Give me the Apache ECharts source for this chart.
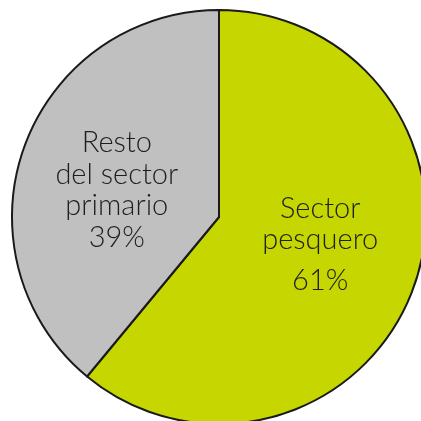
<!DOCTYPE html>
<html><head><meta charset="utf-8">
<script src="https://cdn.jsdelivr.net/npm/echarts@6/dist/echarts.min.js"></script>
<style>html,body{margin:0;padding:0;background:#fff}#c{width:421px;height:421px}</style>
</head><body><div id="c"></div>
<script>
const categories = ['Sector\npesquero', 'Resto\ndel sector\nprimario'];
const values = [61, 39];
const colors = ['#C5D600', '#C0C0C0'];

const chart = echarts.init(document.getElementById('c'), null, {renderer: 'canvas'});
const font = {fontSize: 29, color: '#1e1e1e', fontFamily: 'Lato', fontWeight: 300};
chart.setOption({
  animation: false,
  series: [{
    type: 'pie',
    center: [219, 217],
    radius: [0, 207],
    startAngle: 90,
    clockwise: true,
    data: categories.map((n, i) => ({
      name: n, value: values[i],
      itemStyle: {color: colors[i]},
      label: i === 0 ? {
        formatter: p => '{n|' + p.name + '}\n{p|' + p.value + '%}',
        offset: [1, -9],
        rich: {n: Object.assign({lineHeight: 31.5}, font),
               p: Object.assign({lineHeight: 40, verticalAlign: 'bottom'}, font)}
      } : {
        formatter: p => '{n|' + p.name + '\n' + p.value + '%}',
        offset: [-2, 9],
        rich: {n: Object.assign({lineHeight: 31.5}, font)}
      }
    })),
    label: {show: true, position: 'inside', align: 'center'},
    labelLine: {show: false},
    itemStyle: {borderColor: '#1a1a1a', borderWidth: 2},
    emphasis: {disabled: true}
  }]
});
</script></body></html>
